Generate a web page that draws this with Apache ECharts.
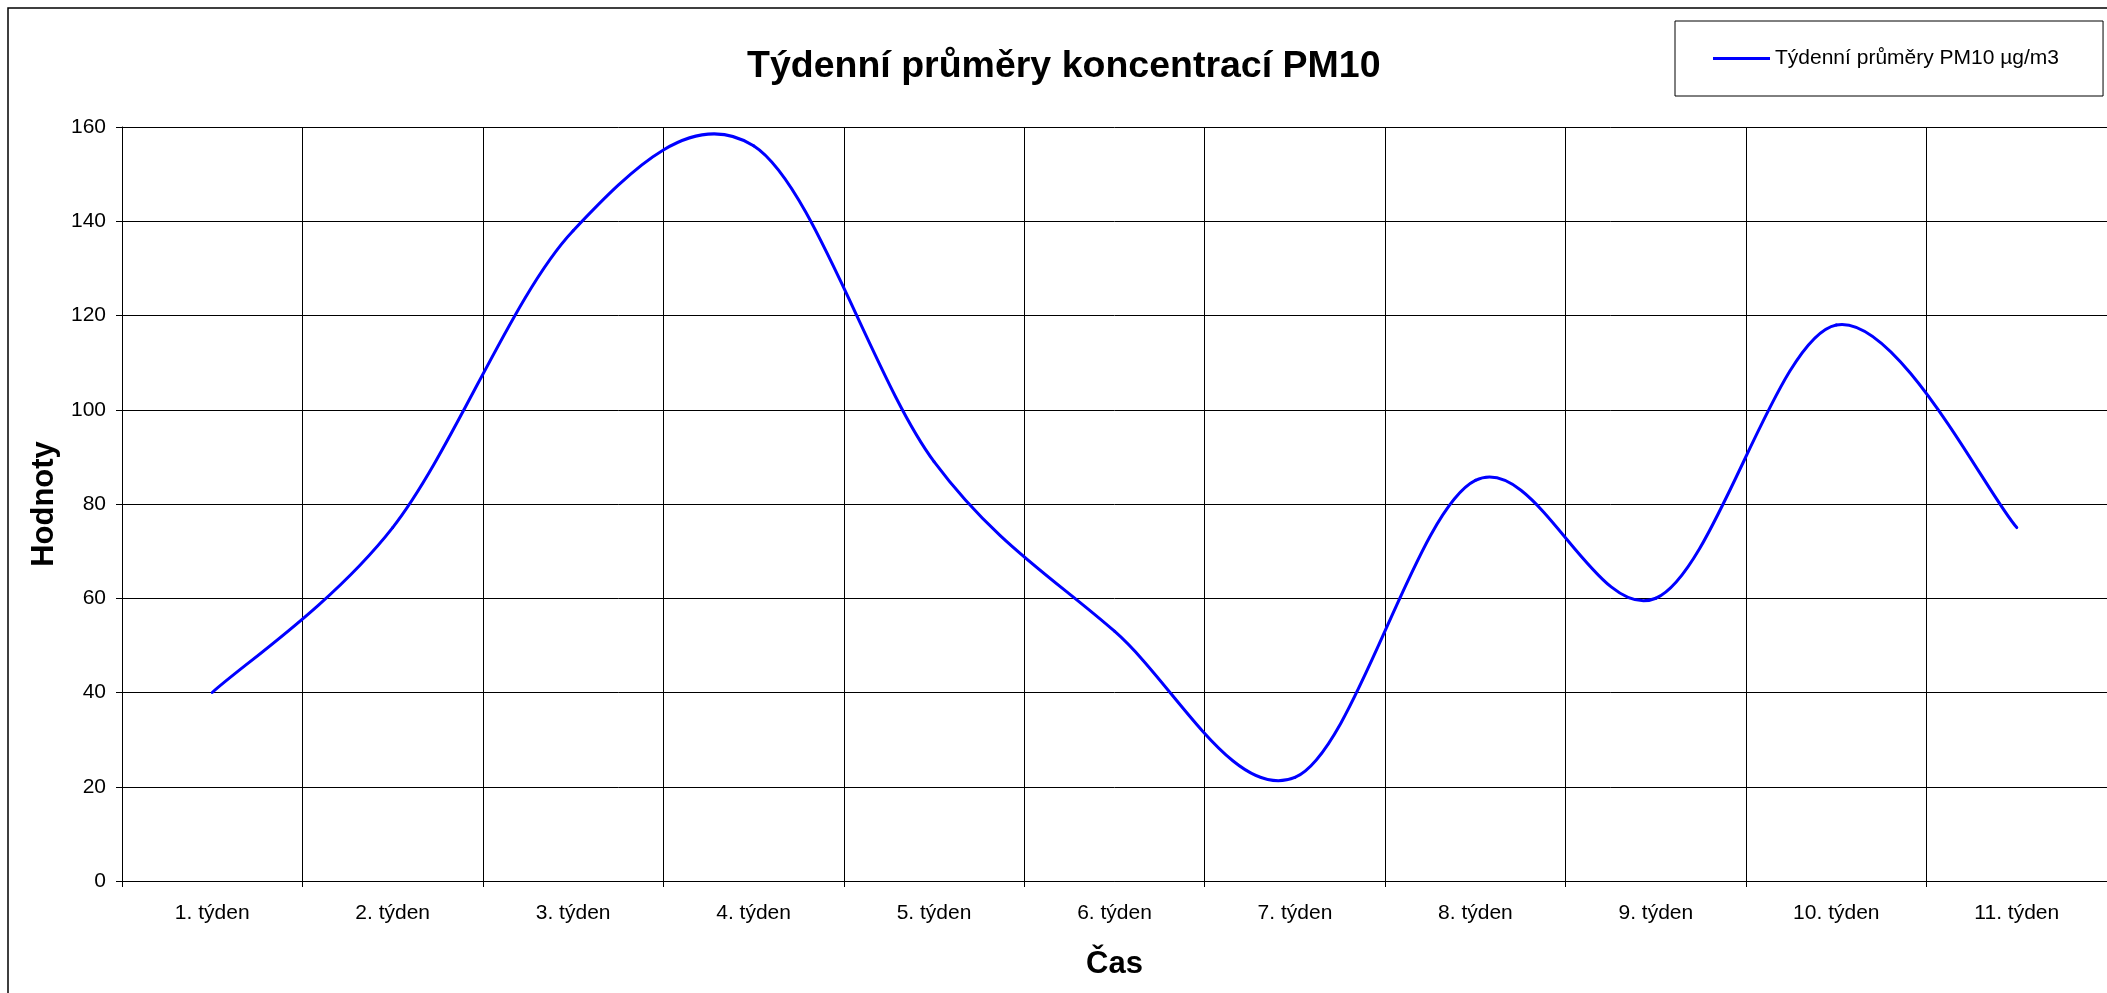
<!DOCTYPE html>
<html>
<head>
<meta charset="utf-8">
<script src="https://cdn.jsdelivr.net/npm/echarts@6/dist/echarts.min.js"></script>
<style>
html, body { margin: 0; padding: 0; background: #ffffff; }
#chart { width: 2107px; height: 993px; }
</style>
</head>
<body>
<div id="chart"></div>
<script>
const categories = ['1. týden', '2. týden', '3. týden', '4. týden', '5. týden', '6. týden', '7. týden', '8. týden', '9. týden', '10. týden', '11. týden'];
const pm10Values = [40, 75, 138, 156, 89, 53, 22, 85, 60, 118, 75];
const seriesName = 'Týdenní průměry PM10 µg/m3';
const chartTitle = 'Týdenní průměry koncentrací PM10';
const yAxisName = 'Hodnoty';
const xAxisName = 'Čas';
const yMin = 0, yMax = 160, yStep = 20;

const FONT = '"Liberation Sans", Arial, Helvetica, sans-serif';
const LINE_COLOR = '#0000ff';
const chart = echarts.init(document.getElementById('chart'), null, { renderer: 'canvas' });

// Smoothed line (Excel-style Catmull-Rom), each data item draws the segment to the next point,
// with all positions obtained from the chart's own axes via api.coord.
function renderSmoothSegment(params, api) {
  const i = params.dataIndex;
  const n = pm10Values.length;
  if (i >= n - 1) return null;
  const idx = k => Math.max(0, Math.min(n - 1, k));
  const P = k => api.coord([idx(k), pm10Values[idx(k)]]);
  const p0 = P(i - 1), p1 = P(i), p2 = P(i + 1), p3 = P(i + 2);
  return {
    type: 'bezierCurve',
    shape: {
      x1: p1[0], y1: p1[1],
      x2: p2[0], y2: p2[1],
      cpx1: p1[0] + (p2[0] - p0[0]) / 6,
      cpy1: p1[1] + (p2[1] - p0[1]) / 6,
      cpx2: p2[0] - (p3[0] - p1[0]) / 6,
      cpy2: p2[1] - (p3[1] - p1[1]) / 6
    },
    style: { stroke: LINE_COLOR, lineWidth: 3, fill: null, lineCap: 'round' },
    silent: true
  };
}

chart.setOption({
  animation: false,
  backgroundColor: '#ffffff',
  textStyle: { fontFamily: FONT, color: '#000' },
  title: {
    text: chartTitle,
    left: 747,
    top: 48,
    padding: 0,
    textStyle: { fontFamily: FONT, fontSize: 37.5, fontWeight: 'bold', color: '#000' }
  },
  legend: {
    data: [{ name: seriesName, icon: 'rect' }],
    left: 1675,
    top: 21,
    padding: [27, 44, 27, 38],
    borderColor: '#000',
    borderWidth: 1,
    backgroundColor: '#fff',
    itemWidth: 57,
    itemHeight: 3,
    itemStyle: { color: LINE_COLOR },
    textStyle: { fontFamily: FONT, fontSize: 21, color: '#000' }
  },
  graphic: [{
    type: 'rect',
    silent: true,
    z: -1,
    shape: { x: 8, y: 8, width: 2200, height: 1100 },
    style: { fill: 'none', stroke: '#000', lineWidth: 1.5 }
  }],
  grid: { left: 122, top: 127, width: 1990, height: 754, containLabel: false },
  xAxis: {
    type: 'category',
    data: categories,
    boundaryGap: true,
    name: xAxisName,
    nameLocation: 'middle',
    nameGap: 68,
    nameTextStyle: { fontFamily: FONT, fontSize: 31, fontWeight: 'bold', color: '#000' },
    axisLine: { show: true, lineStyle: { color: '#000', width: 1 } },
    axisTick: { show: true, length: 6, inside: false, alignWithLabel: false, lineStyle: { color: '#000' } },
    axisLabel: { fontFamily: FONT, fontSize: 21, color: '#000', margin: 22, interval: 0 },
    splitLine: { show: true, interval: 0, lineStyle: { color: '#000', width: 1 } }
  },
  yAxis: {
    type: 'value',
    min: yMin,
    max: yMax,
    interval: yStep,
    name: yAxisName,
    nameLocation: 'middle',
    nameGap: 53,
    nameRotate: 90,
    nameTextStyle: { fontFamily: FONT, fontSize: 31, fontWeight: 'bold', color: '#000' },
    axisLine: { show: true, lineStyle: { color: '#000', width: 1 } },
    axisTick: { show: true, length: 6, inside: false, lineStyle: { color: '#000' } },
    axisLabel: { fontFamily: FONT, fontSize: 21, color: '#000', margin: 16 },
    splitLine: { show: true, lineStyle: { color: '#000', width: 1 } }
  },
  series: [{
    name: seriesName,
    type: 'custom',
    coordinateSystem: 'cartesian2d',
    data: pm10Values.map((v, i) => [i, v]),
    encode: { x: 0, y: 1 },
    renderItem: renderSmoothSegment,
    itemStyle: { color: LINE_COLOR },
    z: 3
  }]
});
</script>
</body>
</html>
